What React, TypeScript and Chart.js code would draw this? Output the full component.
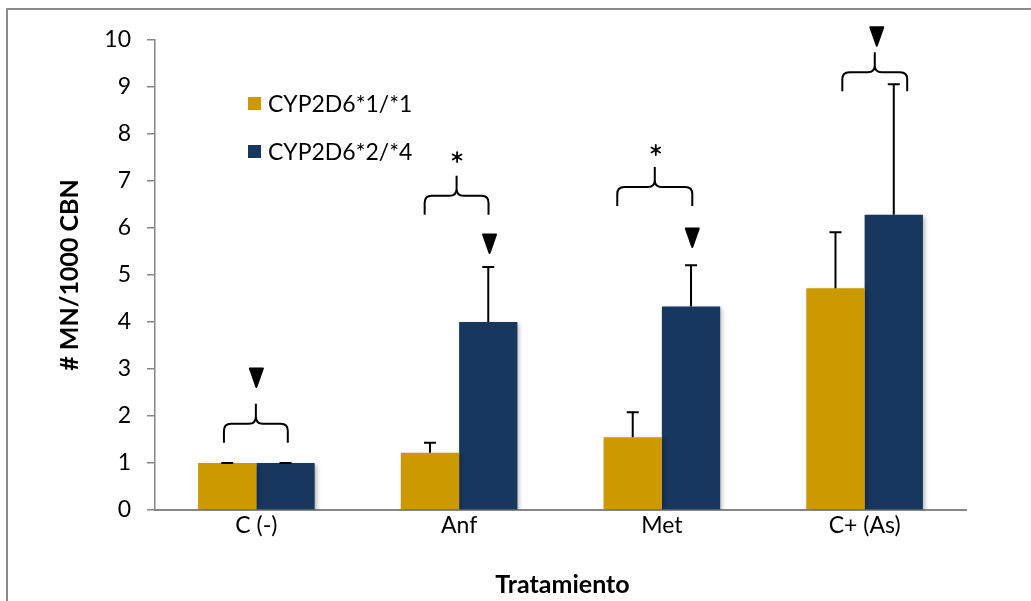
import React, { useEffect, useRef } from "react";
import { Chart, registerables } from "chart.js";

Chart.register(...registerables);

// ---------- data ----------
const categories = ["C (-)", "Anf", "Met", "C+ (As)"];
const seriesNames = ["CYP2D6*1/*1", "CYP2D6*2/*4"];
const seriesColors = ["#CC9900", "#17375E"];
const wtValues = [1.0, 1.22, 1.55, 4.72];
const wtErrTop = [1.0, 1.43, 2.08, 5.91];
const mutValues = [1.0, 4.0, 4.33, 6.28];
const mutErrTop = [1.0, 5.17, 5.21, 9.06];
const yTickMin = 0;
const yTickMax = 10;
const yTickStep = 1;

// significance annotations (value-space y, category-unit x offsets)
const braceTip = [2.26, 7.11, 7.3, 9.74];
const braceLeft = [-0.16, -0.17, -0.22, -0.11];
const braceRight = [0.155, 0.145, 0.15, 0.21];
// triangle markers: x offset in category units, y in value units
const triangleCat = [0, 1, 2, 3];
const triangleOffset = [0.0, 0.15, 0.15, 0.06];
const triangleY = [2.83, 5.68, 5.81, 10.09];
// asterisks
const asteriskCat = [1, 2];
const asteriskOffset = [-0.01, -0.03];
const asteriskY = [7.51, 7.66];

const FONT = 'Lato, "Open Sans", "Liberation Sans", sans-serif';

const overlayPlugin = {
  id: "overlay",
  beforeDatasetsDraw(chart: any) {
    const ctx = chart.ctx;
    ctx.save();
    ctx.shadowColor = "rgba(0,0,0,0.28)";
    ctx.shadowBlur = 4;
    ctx.shadowOffsetX = 2;
    ctx.shadowOffsetY = 2;
  },
  afterDatasetsDraw(chart: any) {
    const ctx = chart.ctx;
    ctx.restore();
    const xs = chart.scales.x;
    const ys = chart.scales.y;
    const catW = xs.width / categories.length;

    // error bars
    const errs = [wtErrTop, mutErrTop];
    const vals = [wtValues, mutValues];
    ctx.save();
    ctx.strokeStyle = "#000";
    ctx.lineWidth = 2;
    for (let d = 0; d < 2; d++) {
      const meta = chart.getDatasetMeta(d);
      meta.data.forEach((bar: any, i: number) => {
        const x = bar.x;
        const y0 = ys.getPixelForValue(vals[d][i]);
        const y1 = ys.getPixelForValue(errs[d][i]);
        ctx.beginPath();
        ctx.moveTo(x, y0);
        ctx.lineTo(x, y1);
        ctx.moveTo(x - 6, y1);
        ctx.lineTo(x + 6, y1);
        ctx.stroke();
      });
    }

    // braces
    ctx.lineWidth = 2;
    ctx.lineJoin = "round";
    ctx.lineCap = "butt";
    for (let i = 0; i < categories.length; i++) {
      const cx = xs.getPixelForValue(i);
      const x0 = cx + braceLeft[i] * catW;
      const x1 = cx + braceRight[i] * catW;
      const xc = (x0 + x1) / 2;
      const yTip = ys.getPixelForValue(braceTip[i]);
      const yH = yTip + 20;
      const yEnd = yTip + 39;
      const r = 7;
      ctx.beginPath();
      ctx.moveTo(x0, yEnd);
      ctx.lineTo(x0, yH + r);
      ctx.quadraticCurveTo(x0, yH, x0 + r, yH);
      ctx.lineTo(xc - r, yH);
      ctx.quadraticCurveTo(xc, yH, xc, yH - r);
      ctx.lineTo(xc, yTip);
      ctx.moveTo(xc, yH - r);
      ctx.quadraticCurveTo(xc, yH, xc + r, yH);
      ctx.lineTo(x1 - r, yH);
      ctx.quadraticCurveTo(x1, yH, x1, yH + r);
      ctx.lineTo(x1, yEnd);
      ctx.stroke();
    }

    // triangles
    ctx.fillStyle = "#000";
    ctx.strokeStyle = "#000";
    ctx.lineWidth = 2;
    for (let k = 0; k < triangleCat.length; k++) {
      const x = xs.getPixelForValue(triangleCat[k]) + triangleOffset[k] * catW;
      const y = ys.getPixelForValue(triangleY[k]);
      ctx.beginPath();
      ctx.moveTo(x - 6.5, y - 8.5);
      ctx.lineTo(x + 6.5, y - 8.5);
      ctx.lineTo(x, y + 10);
      ctx.closePath();
      ctx.fill();
      ctx.stroke();
    }

    // asterisks
    ctx.lineWidth = 1.8;
    ctx.lineCap = "round";
    for (let k = 0; k < asteriskCat.length; k++) {
      const x = xs.getPixelForValue(asteriskCat[k]) + asteriskOffset[k] * catW;
      const y = ys.getPixelForValue(asteriskY[k]);
      const rr = 5;
      ctx.beginPath();
      for (let a = 0; a < 3; a++) {
        const ang = Math.PI / 2 + (a * Math.PI) / 3;
        ctx.moveTo(x - rr * Math.cos(ang), y - rr * Math.sin(ang));
        ctx.lineTo(x + rr * Math.cos(ang), y + rr * Math.sin(ang));
      }
      ctx.stroke();
    }

    // legend
    ctx.font = `23px ${FONT}`;
    ctx.textAlign = "left";
    ctx.textBaseline = "middle";
    for (let d = 0; d < 2; d++) {
      const ly = 103.5 + d * 48;
      ctx.fillStyle = seriesColors[d];
      ctx.fillRect(248, ly - 6.5, 13, 13);
      ctx.fillStyle = "#000";
      ctx.fillText(seriesNames[d], 268, ly + 1);
    }

    // axis titles
    ctx.font = `bold 25px ${FONT}`;
    ctx.textAlign = "center";
    ctx.fillText("Tratamiento", (chart.chartArea.left + chart.chartArea.right) / 2 + 2, 585);
    ctx.save();
    ctx.translate(70, 275);
    ctx.rotate(-Math.PI / 2);
    ctx.fillText("# MN/1000 CBN", 0, 0);
    ctx.restore();

    // outer border
    ctx.strokeStyle = "#8a8a8a";
    ctx.lineWidth = 2;
    ctx.strokeRect(7, 9, 1100, 700);
    ctx.restore();
  },
};

export default function App() {
  const ref = useRef<HTMLCanvasElement | null>(null);
  useEffect(() => {
    if (!ref.current) return;
    const chart = new Chart(ref.current, {
      type: "bar",
      data: {
        labels: categories,
        datasets: [
          {
            label: seriesNames[0],
            data: wtValues,
            backgroundColor: seriesColors[0],
            categoryPercentage: 0.575,
            barPercentage: 1,
          },
          {
            label: seriesNames[1],
            data: mutValues,
            backgroundColor: seriesColors[1],
            categoryPercentage: 0.575,
            barPercentage: 1,
          },
        ],
      },
      options: {
        responsive: false,
        animation: false,
        devicePixelRatio: 1,
        layout: { padding: { top: 40, right: 65, left: 0, bottom: 0 } },
        plugins: { legend: { display: false }, tooltip: { enabled: false } },
        scales: {
          x: {
            grid: { display: false },
            border: { display: true, color: "#868686", width: 2 },
            ticks: { color: "#000", font: { size: 23, family: FONT }, padding: -6 },
            afterFit: (s: any) => {
              s.height = 91;
            },
          },
          y: {
            min: yTickMin,
            max: yTickMax,
            ticks: {
              stepSize: yTickStep,
              color: "#000",
              font: { size: 23, family: FONT },
              padding: 16,
            },
            grid: {
              display: true,
              drawOnChartArea: false,
              drawTicks: true,
              tickLength: 8,
              color: "#868686",
              lineWidth: 1.5,
            },
            border: { display: true, color: "#868686", width: 1.5 },
            afterFit: (s: any) => {
              s.width = 155;
            },
          },
        },
      },
      plugins: [overlayPlugin],
    });
    return () => chart.destroy();
  }, []);
  return (
    <div style={{ position: "fixed", left: 0, top: 0, width: 1031, height: 601, background: "#fff" }}>
      <canvas ref={ref} width={1031} height={601} style={{ display: "block" }} />
    </div>
  );
}
